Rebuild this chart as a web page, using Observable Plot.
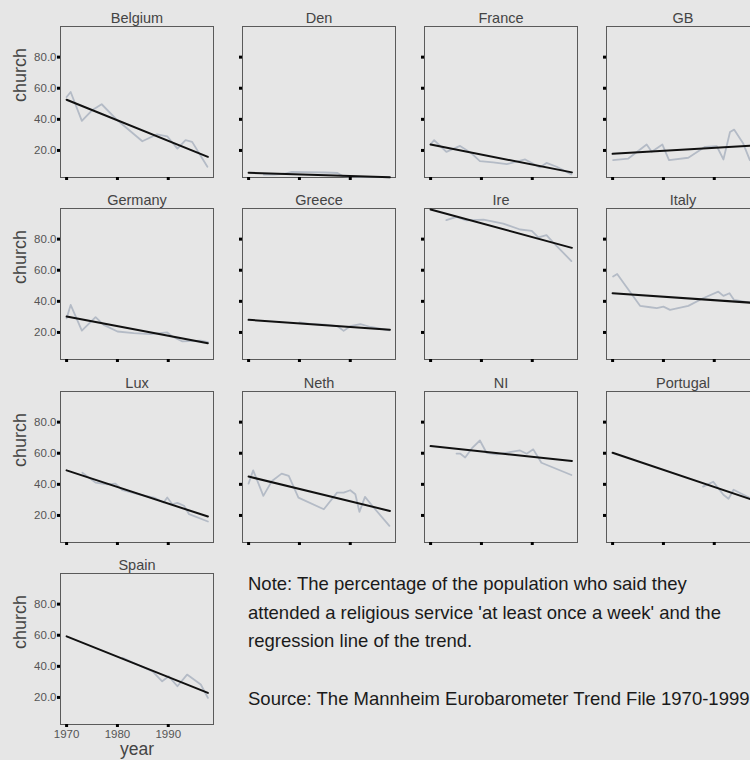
<!DOCTYPE html>
<html>
<head>
<meta charset="utf-8">
<script src="https://cdn.jsdelivr.net/npm/d3@7"></script>
<script src="https://cdn.jsdelivr.net/npm/@observablehq/plot@0.6"></script>
<style>
  html, body { margin: 0; padding: 0; background: #e6e6e6; overflow: hidden; }
  #wrap { position: relative; width: 750px; height: 760px; background: #e6e6e6; font-family: "Liberation Sans", Arial, Helvetica, sans-serif; }
  .panel { position: absolute; }
  #note { position: absolute; left: 248px; top: 570px; font-size: 18.5px; line-height: 28.7px; color: #1a1a1a; white-space: nowrap; }
</style>
</head>
<body>
<div id="wrap"><div id="note">Note: The percentage of the population who said they<br>attended a religious service 'at least once a week' and the<br>regression line of the trend.<br>&nbsp;<br>Source: The Mannheim Eurobarometer Trend File 1970-1999</div></div>
<script>
// ---- data ----
const countries = ["Belgium","Den","France","GB","Germany","Greece","Ire","Italy","Lux","Neth","NI","Portugal","Spain"];
const yTicks = [20, 40, 60, 80];
const xTicks = [1970, 1980, 1990];

const belgium  = [[1970,54.4],[1970.8,57.6],[1973,39],[1975,45.8],[1976.9,49.7],[1980,39.4],[1984.9,25.9],[1987.8,30.4],[1989.8,29.1],[1991.8,21.2],[1993.4,26.6],[1994.7,25.5],[1997.7,9.5]];
const den      = [[1973,4.5],[1975,4.5],[1977,5],[1978.5,6.2],[1981,6],[1985,5.8],[1987.5,5.5],[1988.5,3.5],[1992,3],[1995,3],[1997.7,2.7]];
const france   = [[1970,24],[1970.7,26.6],[1973.1,19.1],[1975.8,22.9],[1978.1,18],[1979.7,13.1],[1982.3,12.3],[1985,11.2],[1988.6,14.2],[1991.5,9.1],[1992.8,12],[1994.8,9.5],[1997.7,4.6]];
const gb       = [[1970.1,13.8],[1973.1,14.8],[1976.7,23.8],[1977.7,19.1],[1979.8,23.8],[1981.1,13.8],[1984.9,15.3],[1988.2,22.3],[1990.5,22.7],[1991.8,14.2],[1993.1,31.9],[1993.9,33.4],[1995.7,24.4],[1997,13.8],[1997.7,12]];
const germany  = [[1970,29.1],[1970.8,37.7],[1973,21.2],[1975.7,29.8],[1977.3,24.9],[1980,20.6],[1983.2,19.5],[1986.5,18.9],[1989.8,20],[1990.8,17.4],[1992.8,14.2],[1996.4,14.8],[1997.8,13.8]];
const greece   = [[1980,26.5],[1982,25.5],[1985,25],[1987.5,24],[1988.7,21],[1990,24],[1992,25.3],[1994,23.5],[1997.7,21.3]];
const ire      = [[1973.1,92.2],[1975.1,94.3],[1977,92],[1980.4,92.6],[1984.3,90],[1987.6,86.2],[1989.9,85.3],[1991.2,81.1],[1992.8,82.6],[1994.1,77.9],[1997.7,65.9]];
const italy    = [[1970.1,55.9],[1970.9,57.6],[1972.7,49.4],[1975.4,37.1],[1977.4,36.2],[1978.7,35.6],[1980,36.6],[1981.3,34.5],[1984.9,37.1],[1987.8,42],[1990.8,46.2],[1991.8,43.5],[1993,45.2],[1993.9,40.9],[1997,39.2],[1997.7,38.5]];
const lux      = [[1973.1,47.5],[1975.7,41.1],[1978,40],[1979.6,40.5],[1981,36.2],[1984.6,33.2],[1987.2,31.5],[1989.1,28.3],[1989.8,31.5],[1990.8,27.2],[1991.8,28.1],[1993.1,26.2],[1994.1,20.8],[1997.8,16.1]];
const neth     = [[1970,40.5],[1970.9,49],[1972.9,32.6],[1974.6,42.2],[1976.5,46.9],[1977.9,45.4],[1979.8,31.5],[1984.8,24],[1987.4,34.7],[1988.7,34.7],[1990,36.2],[1991,33.6],[1991.8,22.3],[1992.9,31.9],[1994.6,25.1],[1997.7,13.3]];
const ni       = [[1975.1,59.8],[1975.8,59.8],[1976.8,57.3],[1978.1,63.1],[1979.7,68.2],[1981,60.3],[1983,59.3],[1987.6,61.8],[1988.9,59.7],[1990.2,62.5],[1991.8,53.9],[1997.7,46]];
const portugal = [[1987.8,38.5],[1989.8,41.7],[1991.8,33.3],[1992.8,30.7],[1993.8,36.5],[1997,31.2],[1997.7,29]];
const spain    = [[1981,45.4],[1984,41],[1987,36.5],[1988.8,30.4],[1990.1,33.6],[1991.8,27.2],[1993.7,34.7],[1996.4,28.3],[1997.8,19.7]];

const series = [belgium, den, france, gb, germany, greece, ire, italy, lux, neth, ni, portugal, spain];
// regression line values at 1970 and at 1997.8
const regYears = [1970, 1997.8];
const regStart = [52.6, 5.6, 23.8, 17.8, 30.2, 28.1, 99.0, 45.2, 49.0, 45.0, 64.6, 60.3, 59.3];
const regEnd   = [15.9, 2.8, 5.9, 23.2, 13.1, 21.7, 74.4, 39.0, 19.3, 22.9, 55.0, 29.7, 22.9];

// ---- drawing ----
const wrap = document.getElementById("wrap");
const font = "'Liberation Sans', Arial, Helvetica, sans-serif";
const fmt = d3.format(".1f");

countries.forEach((name, i) => {
  const col = i % 4, row = Math.floor(i / 4);
  const last = name === "Spain";
  const reg = [[regYears[0], regStart[i]], [regYears[1], regEnd[i]]];
  const marks = [
    Plot.frame({stroke: "#5a5a5a", strokeWidth: 1}),
    Plot.line(series[i], {x: d => d[0], y: d => d[1], stroke: "#b4bbc6", strokeWidth: 1.8}),
    Plot.line(reg, {x: d => d[0], y: d => d[1], stroke: "#111", strokeWidth: 2}),
    Plot.axisY({ticks: yTicks, tickSize: 3, tickPadding: 1, strokeWidth: 3, stroke: "#000",
      tickFormat: col === 0 ? fmt : () => "", fontSize: 11.5, fill: "#555", label: null}),
    Plot.axisX({ticks: xTicks, tickSize: 3, tickPadding: 2, strokeWidth: 3, stroke: "#000",
      tickFormat: last ? d => String(d) : () => "", fontSize: 11.5, fill: "#555", label: null}),
    Plot.text([name], {text: d => d, frameAnchor: "top", lineAnchor: "middle", dy: -8, fontSize: 14.5, fill: "#444"})
  ];
  if (col === 0) marks.push(Plot.text(["church"], {text: d => d, frameAnchor: "left", lineAnchor: "middle", dx: -40, rotate: -90, fontSize: 18, fill: "#444"}));
  if (last) marks.push(Plot.text(["year"], {text: d => d, frameAnchor: "bottom", lineAnchor: "middle", dy: 25, fontSize: 17.5, fill: "#444"}));

  const chart = Plot.plot({
    width: 220,
    height: last ? 213 : 200,
    marginLeft: 60, marginTop: 26, marginRight: 7, marginBottom: last ? 36 : 23,
    style: {background: "transparent", overflow: "visible", fontFamily: font, fontSize: "11.5px"},
    x: {domain: [1968.8, 1998.9]},
    y: {domain: [2.6, 99.7]},
    marks
  });
  chart.classList.add("panel");
  chart.style.left = (182 * col) + "px";
  chart.style.top = (182.3 * row) + "px";
  chart.style.position = "absolute";
  wrap.appendChild(chart);
});
</script>
</body>
</html>
